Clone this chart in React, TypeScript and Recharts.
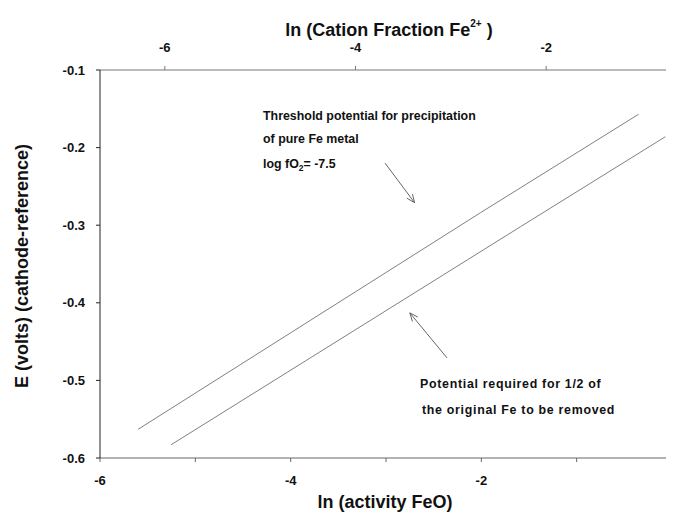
import React from 'react'
import { LineChart, Line, XAxis, YAxis, ReferenceLine } from 'recharts'

// ln(activity FeO) vs E for the two potentials
const lnActivityThreshold = [-5.6, -2.01, -0.35]
const eThreshold = [-0.563, -0.284, -0.157]
const lnActivityHalf = [-5.255, -1.59, -0.07]
const eHalf = [-0.583, -0.302, -0.186]

const bottomTicks = [-6, -5, -4, -3, -2, -1, 0]
const topTicks = [-6, -4, -2]
const yTicks = [-0.6, -0.5, -0.4, -0.3, -0.2, -0.1]

// annotation arrows, in data units: [x1, y1, x2, y2]
const arrowThreshold = [-3.01, -0.22, -2.7, -0.271]
const arrowHalf = [-2.36, -0.471, -2.75, -0.413]

const thresholdData = lnActivityThreshold.map((x, i) => ({ x, e: eThreshold[i] }))
const halfData = lnActivityHalf.map((x, i) => ({ x, e: eHalf[i] }))
// empty series so the top (cation fraction) axis gets drawn
const topAxisData = topTicks.map((x) => ({ x, e: null }))

const FONT = '"Liberation Sans", Arial, Helvetica, sans-serif'
const tickStyle = { fontFamily: FONT, fontSize: 13, fontWeight: 700, fill: '#111' }

const Arrow = (props: any) => {
    const { x1, y1, x2, y2 } = props
    const a = Math.atan2(y2 - y1, x2 - x1)
    const len = 9
    const spread = 0.4
    const hx1 = x2 - len * Math.cos(a - spread)
    const hy1 = y2 - len * Math.sin(a - spread)
    const hx2 = x2 - len * Math.cos(a + spread)
    const hy2 = y2 - len * Math.sin(a + spread)
    return (
        <g stroke="#666" strokeWidth={1} fill="none">
            <line x1={x1} y1={y1} x2={x2} y2={y2} />
            <polyline points={`${hx1},${hy1} ${x2},${y2} ${hx2},${hy2}`} />
        </g>
    )
}

const App = () => {
    const textProps = { fontFamily: FONT, fontWeight: 700, fill: '#111' }
    return (
        <div style={{ position: 'relative', width: 666, height: 505, overflow: 'hidden' }}>
            <LineChart width={700} height={505} margin={{ top: 32, right: 36, bottom: 25, left: 32 }}>
                <XAxis
                    xAxisId="bottom"
                    type="number"
                    dataKey="x"
                    domain={[-6, 0]}
                    ticks={bottomTicks}
                    tickFormatter={(v: number) => (v % 2 === 0 ? String(v) : '')}
                    allowDataOverflow
                    height={30}
                    tick={tickStyle}
                    tickSize={4}
                    tickMargin={14}
                    stroke="#666"
                />
                <XAxis
                    xAxisId="top"
                    orientation="top"
                    type="number"
                    dataKey="x"
                    domain={[-6.68, -0.68]}
                    ticks={topTicks}
                    allowDataOverflow
                    height={30}
                    tick={tickStyle}
                    tickSize={4}
                    tickMargin={14}
                    stroke="#777"
                />
                <YAxis
                    type="number"
                    domain={[-0.6, -0.1]}
                    ticks={yTicks}
                    tickFormatter={(v: number) => v.toFixed(1)}
                    allowDataOverflow
                    width={60}
                    tick={tickStyle}
                    tickSize={4}
                    tickMargin={11}
                    stroke="#222"
                />
                <Line
                    xAxisId="top"
                    data={topAxisData}
                    dataKey="e"
                    stroke="none"
                    dot={false}
                    legendType="none"
                    isAnimationActive={false}
                />
                <Line
                    xAxisId="bottom"
                    data={thresholdData}
                    dataKey="e"
                    stroke="#808080"
                    strokeWidth={1}
                    dot={false}
                    isAnimationActive={false}
                />
                <Line
                    xAxisId="bottom"
                    data={halfData}
                    dataKey="e"
                    stroke="#808080"
                    strokeWidth={1}
                    dot={false}
                    isAnimationActive={false}
                />
                <ReferenceLine
                    xAxisId="bottom"
                    segment={[
                        { x: arrowThreshold[0], y: arrowThreshold[1] },
                        { x: arrowThreshold[2], y: arrowThreshold[3] },
                    ]}
                    shape={Arrow}
                />
                <ReferenceLine
                    xAxisId="bottom"
                    segment={[
                        { x: arrowHalf[0], y: arrowHalf[1] },
                        { x: arrowHalf[2], y: arrowHalf[3] },
                    ]}
                    shape={Arrow}
                />
            </LineChart>
            <svg
                width={666}
                height={505}
                style={{ position: 'absolute', left: 0, top: 0, pointerEvents: 'none' }}
            >
                <text {...textProps} x={381} y={28} fontSize={18} textAnchor="middle">
                    ln (Cation Fraction Fe
                    <tspan fontSize={10} dy={-9}>2+</tspan>
                    <tspan dy={9}> )</tspan>
                </text>
                <text {...textProps} x={377} y={500} fontSize={18} textAnchor="middle">
                    ln (activity FeO)
                </text>
                <text
                    {...textProps}
                    x={0}
                    y={0}
                    fontSize={18}
                    textAnchor="middle"
                    transform="translate(20,258) rotate(-90)"
                >
                    E (volts) (cathode-reference)
                </text>
                <g {...textProps} fontSize={12.4}>
                    <text x={255} y={112}>Threshold potential for precipitation</text>
                    <text x={255} y={135}>of pure Fe metal</text>
                    <text x={255} y={160}>
                        log fO<tspan fontSize={8.5} dy={3}>2</tspan>
                        <tspan dy={-3}>= -7.5</tspan>
                    </text>
                </g>
                <g {...textProps} fontSize={12.4} letterSpacing={0.7}>
                    <text x={412} y={380}>Potential required for  1/2 of</text>
                    <text x={414} y={406}>the original Fe to be removed</text>
                </g>
            </svg>
        </div>
    )
}

export default App
